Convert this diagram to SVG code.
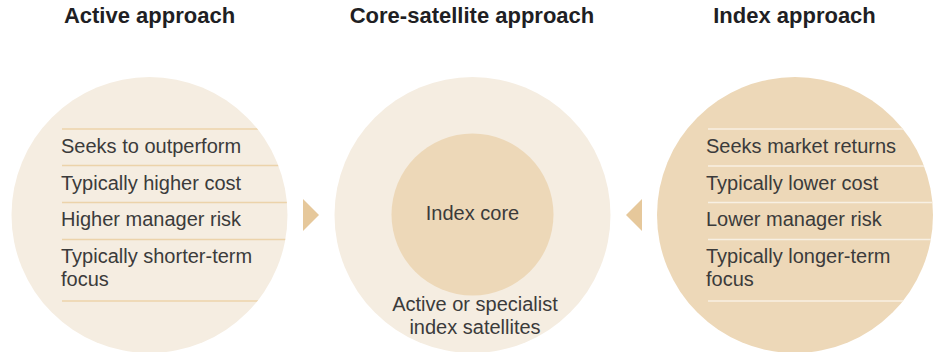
<svg xmlns="http://www.w3.org/2000/svg" width="934" height="352" viewBox="0 0 934 352">
<style>
.title{font-family:"Liberation Sans",Arial,sans-serif;font-weight:bold;font-size:22px;fill:#1f1f24;text-anchor:middle}
.t{font-family:"Liberation Sans",Arial,sans-serif;font-size:20px;fill:#3b3b3b}
.c{text-anchor:middle}
.light{fill:#f5ede1}
.dark{fill:#edd8b8}
.arrow{fill:#e6c89b}
.lineL{stroke:#ecd3aa;stroke-width:1.3}
.lineR{stroke:#f8f0e3;stroke-width:1.3}
</style>
<defs>
<clipPath id="clipL"><circle cx="149.5" cy="215" r="138"/></clipPath>
<clipPath id="clipR"><circle cx="795" cy="215" r="138"/></clipPath>
</defs>
<rect width="934" height="352" fill="#ffffff"/>

<g id="active">
<text class="title" x="149.5" y="23">Active approach</text>
<circle class="light" cx="149.5" cy="215" r="138"/>
<g clip-path="url(#clipL)">
<line class="lineL" x1="62" y1="129" x2="268" y2="129"/>
<line class="lineL" x1="62" y1="165.5" x2="300" y2="165.5"/>
<line class="lineL" x1="62" y1="202.5" x2="300" y2="202.5"/>
<line class="lineL" x1="62" y1="239.5" x2="300" y2="239.5"/>
<line class="lineL" x1="62" y1="301" x2="268" y2="301"/>
</g>
<text class="t" x="61" y="153">Seeks to outperform</text>
<text class="t" x="61" y="189.5">Typically higher cost</text>
<text class="t" x="61" y="226">Higher manager risk</text>
<text class="t" x="61" y="262.5">Typically shorter-term</text>
<text class="t" x="61" y="286">focus</text>
</g>

<g id="core-satellite">
<text class="title" x="472" y="23">Core-satellite approach</text>
<circle class="light" cx="472.5" cy="215" r="138"/>
<circle class="dark" cx="472.5" cy="214.5" r="81"/>
<text class="t c" x="472.5" y="219.5">Index core</text>
<text class="t c" x="475" y="310.5">Active or specialist</text>
<text class="t c" x="475" y="334">index satellites</text>
</g>

<g id="index">
<text class="title" x="794.5" y="23">Index approach</text>
<circle class="dark" cx="795" cy="215" r="138"/>
<g clip-path="url(#clipR)">
<line class="lineR" x1="708" y1="129" x2="940" y2="129"/>
<line class="lineR" x1="708" y1="166" x2="940" y2="166"/>
<line class="lineR" x1="708" y1="202.5" x2="940" y2="202.5"/>
<line class="lineR" x1="708" y1="239.5" x2="940" y2="239.5"/>
<line class="lineR" x1="708" y1="301" x2="940" y2="301"/>
</g>
<text class="t" x="706" y="153">Seeks market returns</text>
<text class="t" x="706" y="189.5">Typically lower cost</text>
<text class="t" x="706" y="226">Lower manager risk</text>
<text class="t" x="706" y="262.5">Typically longer-term</text>
<text class="t" x="706" y="286">focus</text>
</g>

<g id="connectors">
<polygon class="arrow" points="303,199 319,215 303,231"/>
<polygon class="arrow" points="642,199 626,215 642,231"/>
</g>
</svg>
